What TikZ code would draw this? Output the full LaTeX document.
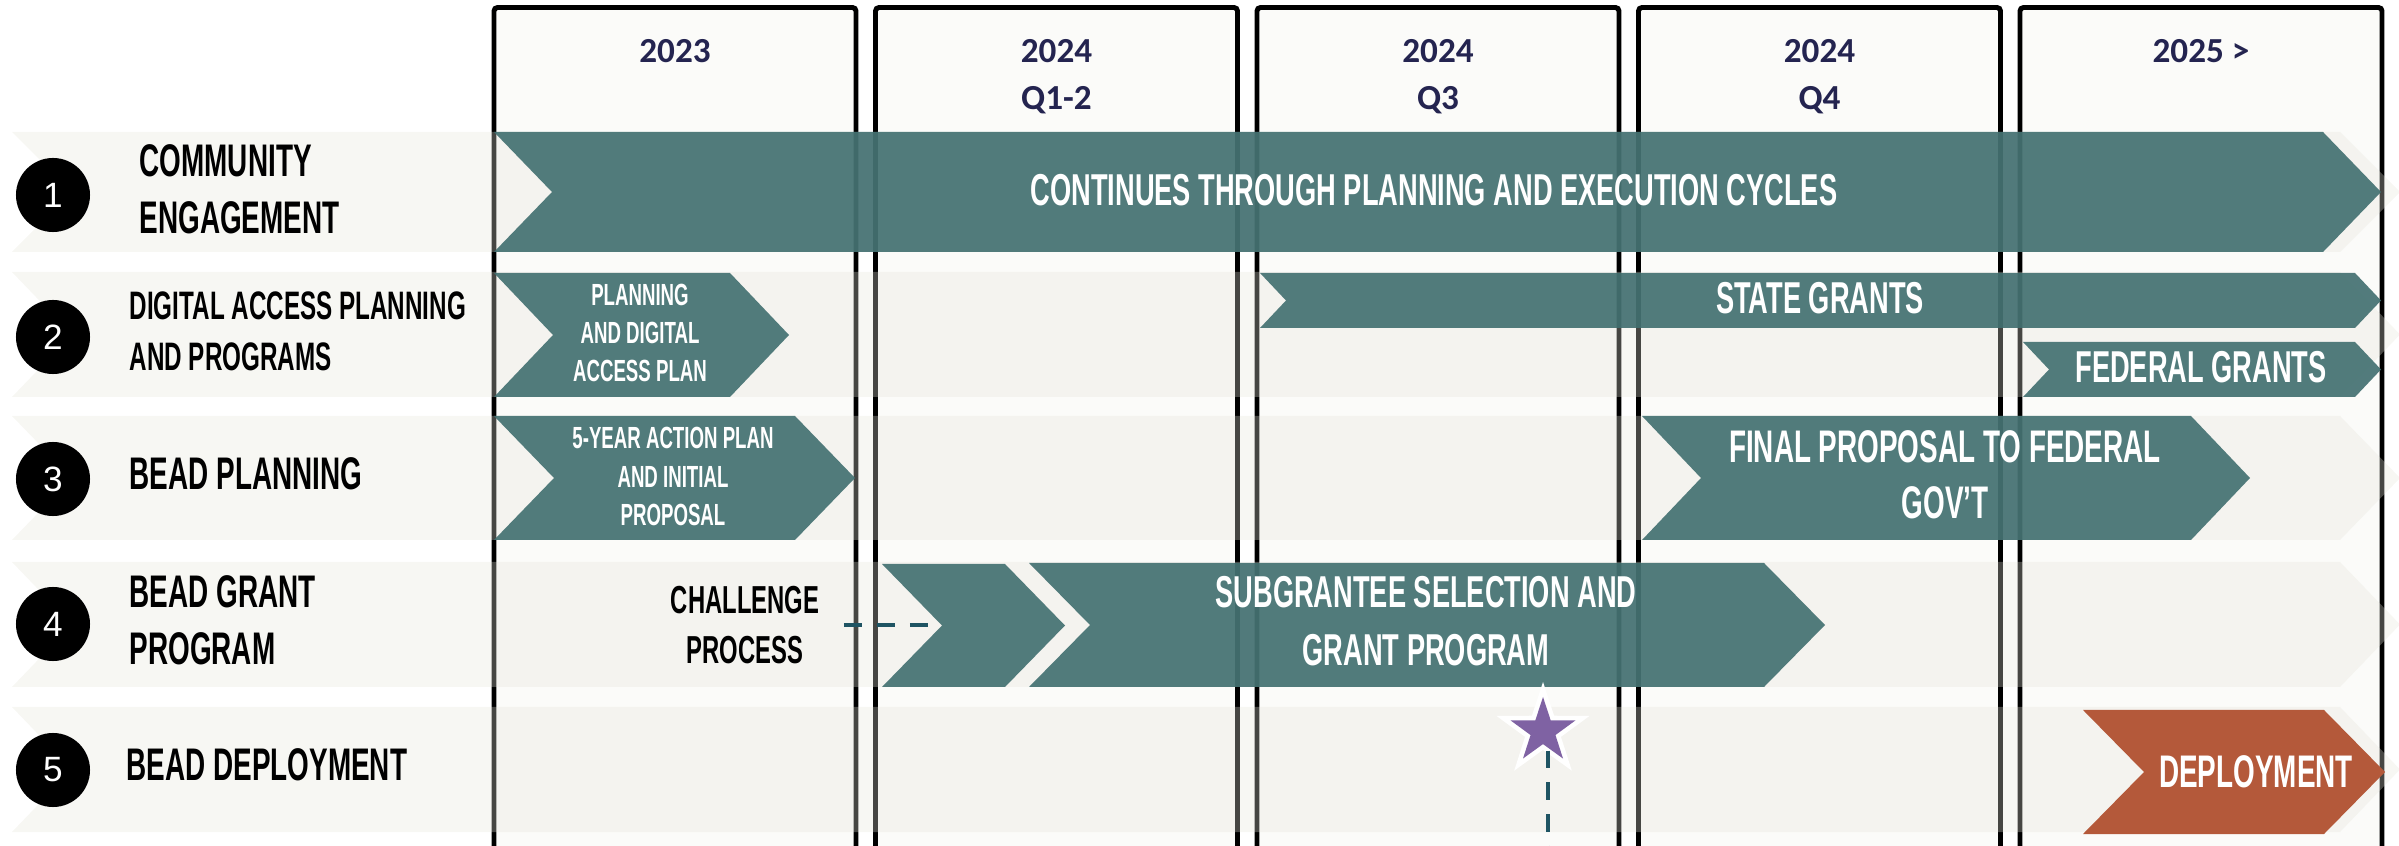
\documentclass[tikz,border=0pt]{standalone}
\usepackage{fontspec}
\setmainfont{Liberation Sans}
\newfontfamily\condfont[FakeStretch=0.61]{Liberation Sans}
\newfontfamily\headfont{Carlito}
\usetikzlibrary{shapes.geometric}

\definecolor{tealbar}{RGB}{64,110,111}
\definecolor{bandgray}{RGB}{229,228,217}
\definecolor{colfill}{RGB}{251,251,249}
\definecolor{rust}{RGB}{180,89,58}
\definecolor{navy}{RGB}{36,36,80}
\definecolor{dashteal}{RGB}{31,84,99}
\definecolor{starpurple}{RGB}{127,98,163}

% chevron: [style] left, right, top, bottom, depth
\newcommand{\chevron}[6][]{%
  \fill[#1] (#2,#4) -- ({#3-#6},#4) -- (#3,{(#4+#5)/2}) -- ({#3-#6},#5)
    -- (#2,#5) -- ({#2+#6},{(#4+#5)/2}) -- cycle;}

\begin{document}
\begin{tikzpicture}[x=0.01cm, y=-0.01cm,
    colbox/.style={draw=black, line width=1.4pt, fill=colfill, rounded corners=1pt},
    band/.style={fill=bandgray, fill opacity=0.31},
    bar/.style={fill=tealbar, fill opacity=0.9},
    rownum/.style={circle, fill=black, minimum size=0.74cm, inner sep=0pt, text=white,
        font=\fontsize{10}{12}\selectfont},
    rowlabel/.style={anchor=west, align=left, inner sep=0pt,
        font=\condfont\bfseries\fontsize{13}{16.2}\selectfont},
    yearlabel/.style={anchor=north, align=center, inner sep=0pt, text=navy,
        font=\headfont\bfseries\fontsize{10}{13.2}\selectfont},
    bartext/.style={align=center, inner sep=0pt, text=white,
        font=\condfont\bfseries\fontsize{12.7}{16.2}\selectfont},
    smalltext/.style={bartext, font=\condfont\bfseries\fontsize{8.7}{10.9}\selectfont},
    dashline/.style={draw=dashteal, line width=1.4pt, dash pattern=on 5.1pt off 4.3pt}]

    \useasboundingbox (0,0) rectangle (2399,846);
    \clip (0,0) rectangle (2399,846);

    % columns
    \foreach \i in {0,...,4}
        \draw[colbox] ({494+381.5*\i},7.5) rectangle ({856+381.5*\i},880);

    \node[yearlabel] (y2023) at (675,39) {2023};
    \node[yearlabel] (y2024a) at (1056.5,39) {2024\\Q1-2};
    \node[yearlabel] (y2024b) at (1438,39) {2024\\Q3};
    \node[yearlabel] (y2024c) at (1819.5,39) {2024\\Q4};
    \node[yearlabel] (y2025) at (2201,39) {2025 >};

    % row bands
    \chevron[band]{12}{2400}{132}{252}{60}
    \chevron[band]{12}{2400}{272}{397}{60}
    \chevron[band]{12}{2400}{416}{540}{60}
    \chevron[band]{12}{2400}{562}{687}{60}
    \chevron[band]{12}{2400}{707}{832}{60}

    \node[rownum] (num1) at (53,195) {1};
    \node[rownum] (num2) at (53,337) {2};
    \node[rownum] (num3) at (53,479) {3};
    \node[rownum] (num4) at (53,624) {4};
    \node[rownum] (num5) at (53,770) {5};

    \node[rowlabel] (lab1) at (139,189) {COMMUNITY\\ENGAGEMENT};
    \node[rowlabel, font=\condfont\bfseries\fontsize{11.3}{14.5}\selectfont] (lab2) at (129,331.5)
        {DIGITAL ACCESS PLANNING\\AND PROGRAMS};
    \node[rowlabel] (lab3) at (129,474) {BEAD PLANNING};
    \node[rowlabel] (lab4) at (129,620) {BEAD GRANT\\PROGRAM};
    \node[rowlabel] (lab5) at (126,765) {BEAD DEPLOYMENT};

    % row 1
    \chevron[bar]{494}{2381}{132}{252}{58}
    \node[bartext] (engage) at (1434,190) {CONTINUES THROUGH PLANNING AND EXECUTION CYCLES};

    % row 2
    \chevron[bar]{494}{789}{273}{397}{59}
    \node[smalltext] (dap) at (640,333) {PLANNING\\AND DIGITAL\\ACCESS PLAN};
    \chevron[bar]{1260}{2381}{273}{328}{26}
    \node[bartext] (state) at (1820,298) {STATE GRANTS};
    \chevron[bar]{2023}{2381}{342}{397}{26}
    \node[bartext] (federal) at (2201,367) {FEDERAL GRANTS};

    % row 3
    \chevron[bar]{494}{855}{416}{540}{60}
    \node[smalltext] (initial) at (673,476.5) {5-YEAR ACTION PLAN\\AND INITIAL\\PROPOSAL};
    \chevron[bar]{1642}{2250}{416}{540}{59}
    \node[bartext, font=\condfont\bfseries\fontsize{13}{15.9}\selectfont] (final) at (1945,475)
        {FINAL PROPOSAL TO FEDERAL\\GOV’T};

    % row 4
    \chevron[bar]{882}{1065}{564}{687}{60}
    \chevron[bar]{1029}{1825}{563}{687}{61}
    \node[bartext, font=\condfont\bfseries\fontsize{12.7}{16.5}\selectfont] (subgrant) at (1426,621)
        {SUBGRANTEE SELECTION AND\\GRANT PROGRAM};
    \node[align=center, inner sep=0pt, font=\condfont\bfseries\fontsize{11.1}{14.2}\selectfont]
        (chal) at (745,625) {CHALLENGE\\PROCESS};
    \coordinate (chalend) at (941,625);
    \draw[dashline] (chal.east) ++(24,0) -- (chalend);

    % row 5
    \chevron[fill=rust]{2083}{2385}{710}{834}{61}
    \node[bartext, font=\condfont\bfseries\fontsize{13}{16}\selectfont] (deploy) at (2256,772) {DEPLOYMENT};

    % milestone
    \node[star, star points=5, star point ratio=2.6, fill=white, minimum size=0.98cm,
        inner sep=0pt] (halo) at (1543,731) {};
    \node[star, star points=5, star point ratio=2.6, fill=starpurple, minimum size=0.68cm,
        inner sep=0pt] (star) at (halo) {};
    \coordinate (starfoot) at (1548,870);
    \draw[dashline, dash pattern=on 5pt off 4pt] (halo.south -| starfoot) -- (starfoot);

\end{tikzpicture}
\end{document}
